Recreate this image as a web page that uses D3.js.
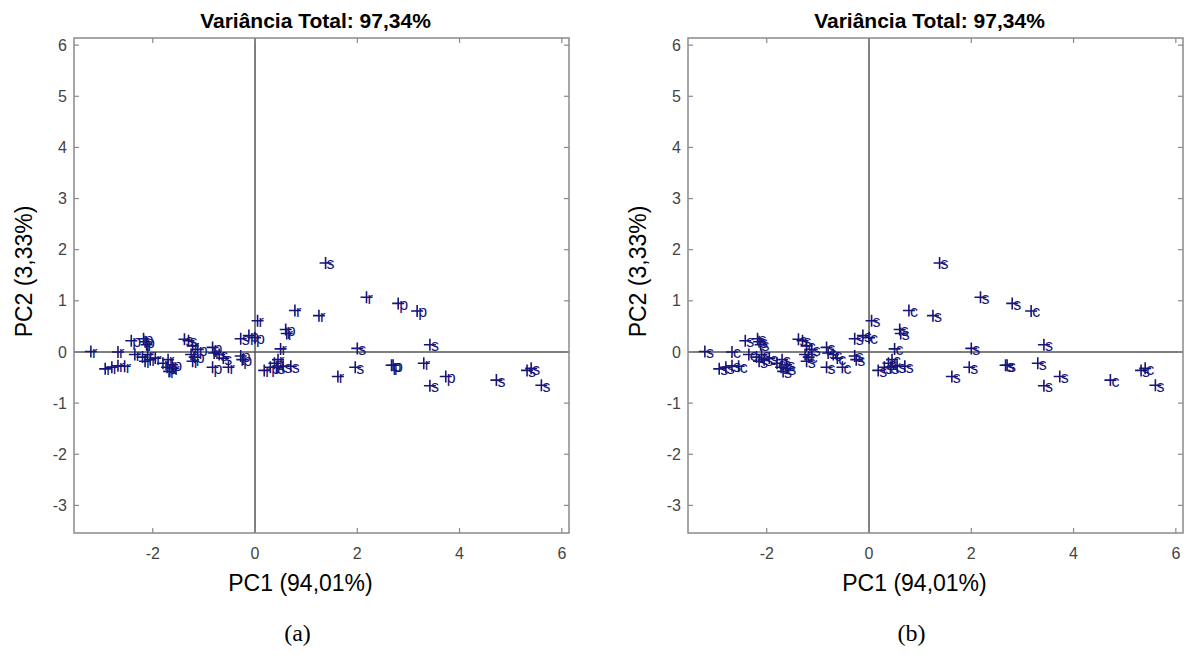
<!DOCTYPE html>
<html><head><meta charset="utf-8">
<script src="https://cdn.jsdelivr.net/npm/d3@7"></script>
<style>html,body{margin:0;padding:0;background:#fff;}svg{display:block;}</style>
</head><body>
<script>
// ---- data ----
const pc1 = [-3.21,-2.68,-2.93,-2.80,-2.68,-2.55,-2.42,-2.18,-2.15,-2.12,-2.35,-2.20,-2.10,-2.05,-2.15,-1.95,-1.80,-1.72,-1.68,-1.62,-1.70,-1.60,-1.38,-1.30,-1.22,-1.25,-1.22,-1.18,-1.12,-0.83,-0.80,-0.83,-0.70,-0.52,-0.62,-0.28,-0.25,-0.28,-0.12,0.00,0.05,0.18,0.30,0.38,0.42,0.55,0.70,0.45,0.50,0.60,0.62,0.78,1.25,1.38,2.18,2.80,3.17,2.00,3.42,1.96,1.62,2.67,2.70,3.30,3.42,3.73,4.72,5.32,5.40,5.60];
const pc2 = [0.01,0.00,-0.33,-0.30,-0.27,-0.28,0.22,0.26,0.20,0.14,-0.05,-0.10,-0.05,-0.15,-0.18,-0.12,-0.22,-0.30,-0.38,-0.25,-0.15,-0.32,0.25,0.22,0.12,-0.05,-0.18,-0.10,0.05,0.09,-0.02,-0.30,-0.05,-0.30,-0.12,-0.08,-0.15,0.26,0.32,0.28,0.61,-0.36,-0.30,-0.22,-0.30,-0.28,-0.28,-0.15,0.06,0.44,0.36,0.81,0.71,1.74,1.07,0.95,0.80,0.07,0.14,-0.30,-0.48,-0.26,-0.26,-0.22,-0.66,-0.48,-0.55,-0.36,-0.32,-0.65];
const labelsA = ["r","r","r","r","r","r","p","p","p","r","r","r","r","r","r","r","r","p","r","p","r","r","s","s","r","r","r","p","p","p","r","p","s","r","s","p","p","s","p","p","r","r","p","p","s","s","s","r","r","p","r","r","r","s","r","p","p","s","s","s","r","p","p","r","s","p","s","s","s","s"];
const labelsB = ["s","c","s","s","s","c","s","s","s","s","c","s","s","s","s","s","c","s","s","s","s","s","s","s","c","c","s","c","s","s","s","s","c","c","c","s","s","s","s","c","s","s","s","s","s","s","s","c","c","s","s","c","s","s","s","s","c","s","s","s","s","s","s","s","s","s","c","s","c","s"];
const xTickLabels = ["-2","0","2","4","6"];
const xTickVals = [-2,0,2,4,6];
const yTickVals = [-3,-2,-1,0,1,2,3,4,5,6];
const titleText = "Variância Total: 97,34%";
const xLabelText = "PC1 (94,01%)";
const yLabelText = "PC2 (3,33%)";
const panelTags = ["(a)","(b)"];
const domain = [-3.54, 6.14];

const W = 1188, H = 657;
const svg = d3.select("body").append("svg").attr("width", W).attr("height", H);
const size = 495, plotTop = 38;
const panels = [{left: 74, labels: labelsA, tag: panelTags[0]}, {left: 688, labels: labelsB, tag: panelTags[1]}];
const navy = "#15157a";
const frameCol = "#8a8a8a";
const sans = "Liberation Sans, Arial, sans-serif";

panels.forEach(p => {
  const x = d3.scaleLinear().domain(domain).range([p.left, p.left + size]);
  const y = d3.scaleLinear().domain(domain).range([plotTop + size, plotTop]);
  const g = svg.append("g");
  // zero lines
  g.append("line").attr("x1", x(0)).attr("x2", x(0)).attr("y1", plotTop).attr("y2", plotTop + size)
    .attr("stroke", "#555").attr("stroke-width", 1.5);
  g.append("line").attr("x1", p.left).attr("x2", p.left + size).attr("y1", y(0)).attr("y2", y(0))
    .attr("stroke", "#555").attr("stroke-width", 1.5);
  // frame
  g.append("rect").attr("x", p.left).attr("y", plotTop).attr("width", size).attr("height", size)
    .attr("fill", "none").attr("stroke", frameCol).attr("stroke-width", 1.5);
  // ticks (inward, mirrored)
  const tl = 5;
  xTickVals.forEach(v => {
    g.append("line").attr("x1", x(v)).attr("x2", x(v)).attr("y1", plotTop + size).attr("y2", plotTop + size - tl).attr("stroke", frameCol).attr("stroke-width", 1.2);
    g.append("line").attr("x1", x(v)).attr("x2", x(v)).attr("y1", plotTop).attr("y2", plotTop + tl).attr("stroke", frameCol).attr("stroke-width", 1.2);
  });
  yTickVals.forEach(v => {
    g.append("line").attr("x1", p.left).attr("x2", p.left + tl).attr("y1", y(v)).attr("y2", y(v)).attr("stroke", frameCol).attr("stroke-width", 1.2);
    g.append("line").attr("x1", p.left + size).attr("x2", p.left + size - tl).attr("y1", y(v)).attr("y2", y(v)).attr("stroke", frameCol).attr("stroke-width", 1.2);
  });
  // tick labels
  xTickVals.forEach((v, i) => {
    g.append("text").attr("x", x(v)).attr("y", plotTop + size + 26).attr("text-anchor", "middle")
      .attr("font-family", sans).attr("font-size", 16).attr("fill", "#444")
      .text(xTickLabels[i]);
  });
  yTickVals.forEach(v => {
    g.append("text").attr("x", p.left - 7).attr("y", y(v)).attr("dy", "0.35em").attr("text-anchor", "end")
      .attr("font-family", sans).attr("font-size", 16).attr("fill", "#444")
      .text(String(v));
  });
  // title
  g.append("text").attr("x", p.left + size / 2 - 6).attr("y", 28).attr("text-anchor", "middle")
    .attr("font-family", sans).attr("font-weight", "bold").attr("font-size", 21)
    .text(titleText);
  // x label
  g.append("text").attr("x", p.left + size / 2 - 21).attr("y", 591).attr("text-anchor", "middle")
    .attr("font-family", sans).attr("font-size", 23)
    .text(xLabelText);
  // y label
  g.append("text").attr("transform", `translate(${p.left - 42},${plotTop + size / 2 - 14}) rotate(-90)`)
    .attr("text-anchor", "middle")
    .attr("font-family", sans).attr("font-size", 23)
    .text(yLabelText);
  // panel tag
  g.append("text").attr("x", p.left + size / 2 - 24).attr("y", 641).attr("text-anchor", "middle")
    .attr("font-family", "Liberation Serif, Times New Roman, serif").attr("font-size", 24)
    .text(p.tag);
  // points
  const pts = g.append("g");
  pc1.forEach((v, i) => {
    const cx = x(v), cy = y(pc2[i]);
    const m = 6;
    pts.append("path").attr("d", `M${cx - m},${cy}H${cx + m}M${cx},${cy - m}V${cy + m}`)
      .attr("stroke", navy).attr("stroke-width", 1.6).attr("fill", "none");
    pts.append("text").attr("x", cx + 1).attr("y", cy).attr("dy", "0.4em")
      .attr("font-family", sans).attr("font-size", 16).attr("fill", navy)
      .text(p.labels[i]);
  });
});
</script>
</body></html>
